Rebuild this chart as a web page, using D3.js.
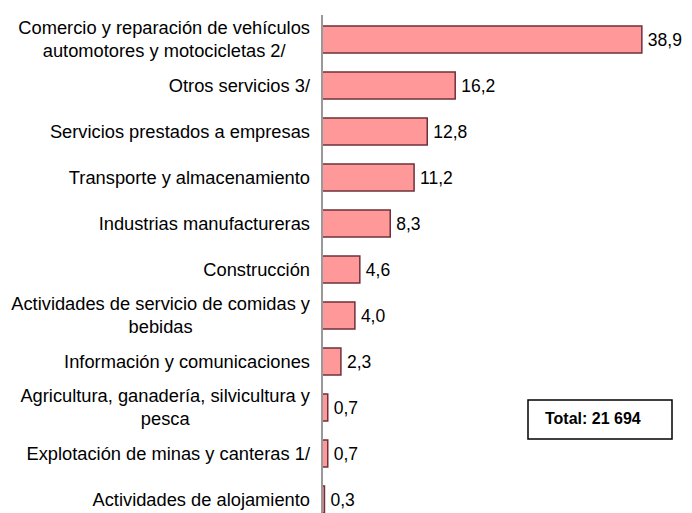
<!DOCTYPE html>
<html>
<head>
<meta charset="utf-8">
<script src="https://cdn.jsdelivr.net/npm/d3@7"></script>
<style>
  body { margin: 0; background: #fff; }
  svg { display: block; font-family: Arial, "Liberation Sans", sans-serif; }
</style>
</head>
<body>
<svg id="chart" width="692" height="513"></svg>
<script>
// -- data -- //
const categories = [
  ["Comercio y reparación de vehículos", "automotores y motocicletas 2/"],
  ["Otros servicios 3/"],
  ["Servicios prestados a empresas"],
  ["Transporte y almacenamiento"],
  ["Industrias manufactureras"],
  ["Construcción"],
  ["Actividades de servicio de comidas y", "bebidas"],
  ["Información y comunicaciones"],
  ["Agricultura, ganadería, silvicultura y", "pesca"],
  ["Explotación de minas y canteras 1/"],
  ["Actividades de alojamiento"]
];
const values = [38.9, 16.2, 12.8, 11.2, 8.3, 4.6, 4.0, 2.3, 0.7, 0.7, 0.3];
const valueLabels = ["38,9", "16,2", "12,8", "11,2", "8,3", "4,6", "4,0", "2,3", "0,7", "0,7", "0,3"];
const totalText = "Total: 21 694";

const data = values.map((v, i) => ({ idx: i, lines: categories[i], value: v, label: valueLabels[i] }));

const svg = d3.select('#chart');

// -- scales -- //
const xScale = d3.scaleLinear().domain([0, 45]).range([322, 692]);
const yScale = d3.scaleBand()
  .domain(data.map(d => d.idx))
  .range([16.5, 522.5])
  .paddingInner(0.413)
  .paddingOuter(0.2065);

// -- bars -- //
svg.selectAll('.bar')
  .data(data)
  .enter().append('rect')
  .attr('class', 'bar')
  .attr('x', xScale(0))
  .attr('y', d => yScale(d.idx))
  .attr('width', d => xScale(d.value) - xScale(0))
  .attr('height', yScale.bandwidth())
  .style('fill', '#ff9999')
  .style('stroke', '#70303a')
  .style('stroke-width', '1.5');

// -- axis line -- //
svg.append('line')
  .attr('x1', xScale(0)).attr('x2', xScale(0))
  .attr('y1', 15).attr('y2', 513)
  .style('stroke', '#999')
  .style('stroke-width', '2');

// -- category labels (block right aligned, lines centered) -- //
const lineH = 23;
const labelRight = 310;
data.forEach(d => {
  const g = svg.append('text')
    .attr('font-size', 18.3)
    .attr('fill', '#000')
    .attr('text-anchor', 'middle');
  const cy = yScale(d.idx) + yScale.bandwidth() / 2;
  const n = d.lines.length;
  const spans = d.lines.map((t, j) => g.append('tspan')
    .attr('y', cy + (j - (n - 1) / 2) * lineH)
    .attr('dy', '0.35em')
    .text(t));
  // block width = widest line
  const widths = spans.map(s => s.node().getComputedTextLength());
  const w = d3.max(widths);
  spans.forEach(s => s.attr('x', labelRight - w / 2));
});

// -- value labels -- //
svg.selectAll('.val')
  .data(data)
  .enter().append('text')
  .attr('class', 'val')
  .attr('x', d => xScale(d.value) + 6)
  .attr('y', d => yScale(d.idx) + yScale.bandwidth() / 2)
  .attr('dy', '0.35em')
  .attr('font-size', 17.5)
  .text(d => d.label);

// -- total box -- //
svg.append('rect')
  .attr('x', 528).attr('y', 400)
  .attr('width', 144).attr('height', 39)
  .style('fill', '#fff')
  .style('stroke', '#000')
  .style('stroke-width', '1.5');
svg.append('text')
  .attr('x', 545).attr('y', 424)
  .attr('font-size', 16)
  .attr('font-weight', 'bold')
  .text(totalText);
</script>
</body>
</html>
